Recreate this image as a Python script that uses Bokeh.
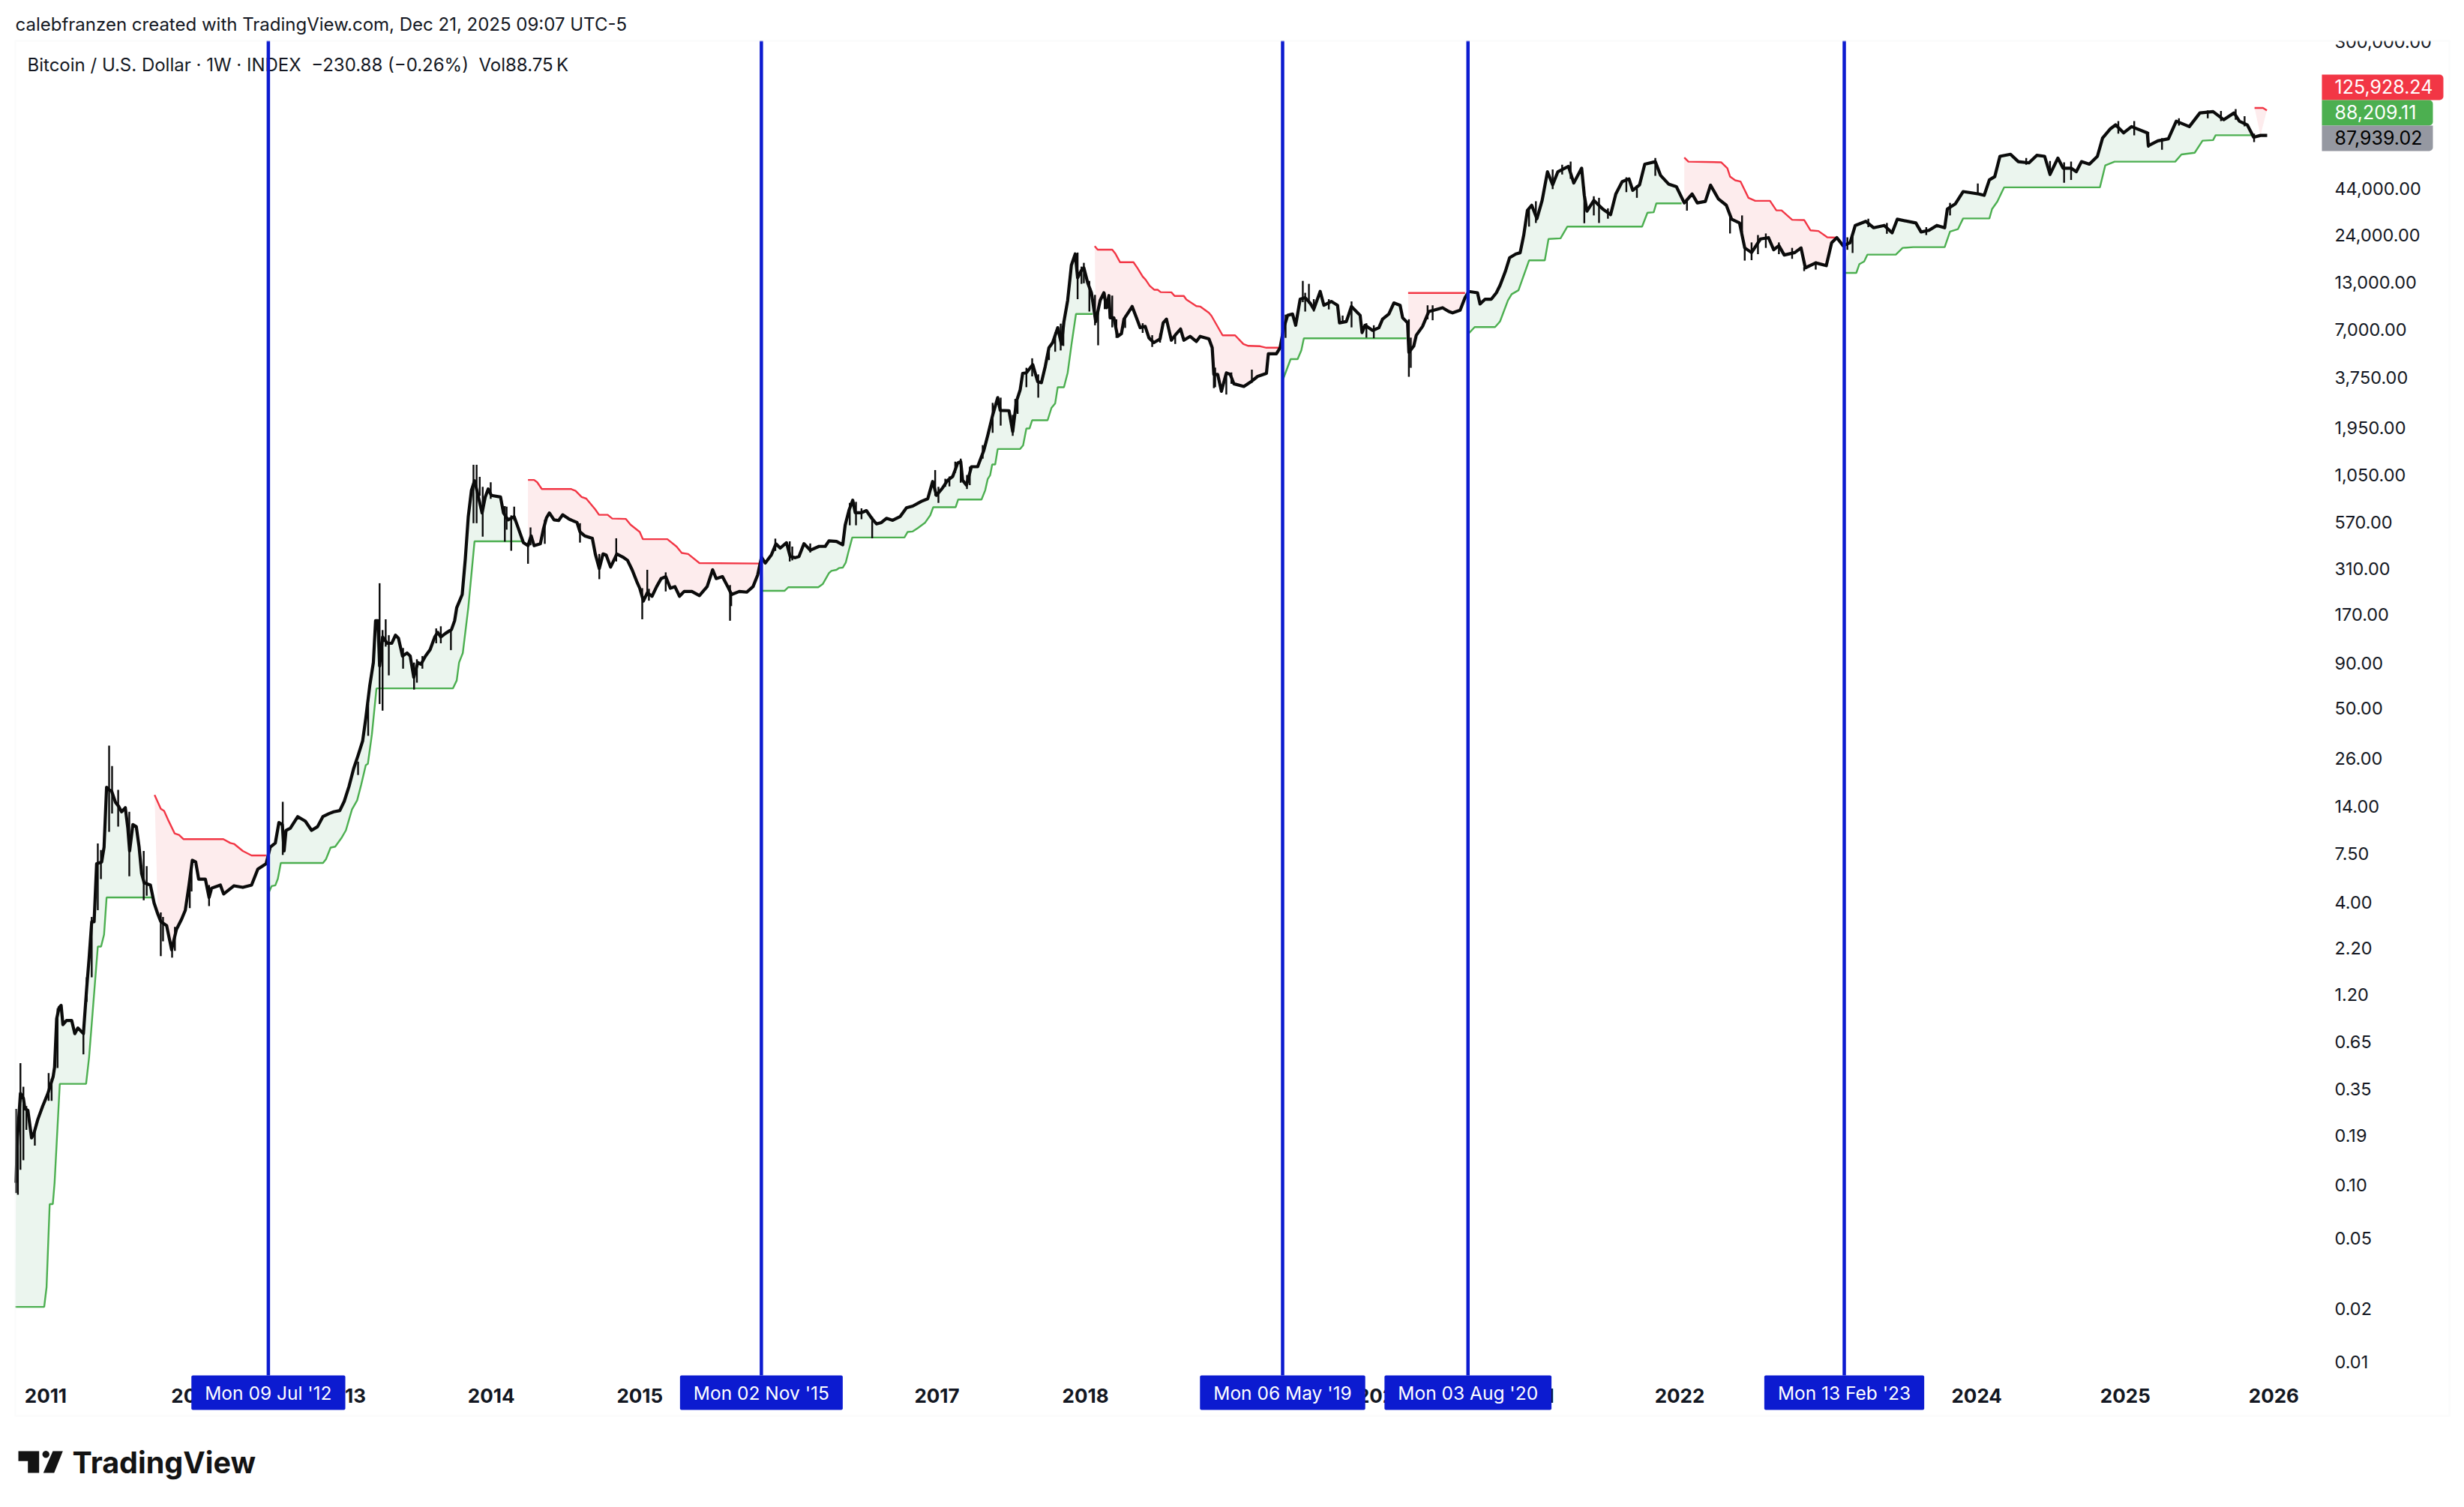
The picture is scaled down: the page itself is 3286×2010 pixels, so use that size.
import math
from bokeh.embed import file_html
from bokeh.resources import INLINE
from bokeh.plotting import figure
from bokeh.models import (BoxAnnotation, FixedTicker, Label, NumeralTickFormatter,
                          PolyAnnotation)

# ---------------------------------------------------------------- text
title_text = "calebfranzen created with TradingView.com, Dec 21, 2025 09:07 UTC-5"
legend_text = "Bitcoin / U.S. Dollar · 1W · INDEX\u00a0\u00a0−230.88 (−0.26%)\u00a0\u00a0Vol88.75\u2009K"
brand_text = "TradingView"

# ---------------------------------------------------------------- axes
x_tick_values = [2011.02, 2012.02, 2013.02, 2014.02, 2015.02, 2016.02, 2017.02, 2018.02,
                 2019.02, 2020.02, 2021.02, 2022.02, 2023.02, 2024.02, 2025.02, 2026.02]
x_tick_labels = ["2011", "2012", "2013", "2014", "2015", "2016", "2017", "2018",
                 "2019", "2020", "2021", "2022", "2023", "2024", "2025", "2026"]
y_tick_values = [300000, 44000, 24000, 13000, 7000, 3750, 1950, 1050, 570, 310, 170, 90, 50,
                 26, 14, 7.5, 4, 2.2, 1.2, 0.65, 0.35, 0.19, 0.10, 0.05, 0.02, 0.01]

# ---------------------------------------------------------------- events
event_dates = [2012.519, 2015.838, 2019.347, 2020.595, 2023.128]
event_labels = ["Mon 09 Jul '12", "Mon 02 Nov '15", "Mon 06 May '19", "Mon 03 Aug '20", "Mon 13 Feb '23"]

# ---------------------------------------------------------------- last values
last_high = 125928.24
last_support = 88209.11
last_close = 87939.02

# ---------------------------------------------------------------- weekly closes
close_t_1 = [2010.82, 2010.83, 2010.85, 2010.87, 2010.88, 2010.90, 2010.925, 2010.94, 2010.967, 2011.0,
             2011.035, 2011.07, 2011.08, 2011.094, 2011.11, 2011.124, 2011.136, 2011.16, 2011.195, 2011.216,
             2011.237, 2011.274, 2011.296, 2011.312, 2011.33, 2011.346, 2011.363, 2011.397, 2011.413, 2011.43,
             2011.447, 2011.464, 2011.49, 2011.51, 2011.531, 2011.556, 2011.573, 2011.585, 2011.607, 2011.63,
             2011.649, 2011.666, 2011.683, 2011.725, 2011.75, 2011.775, 2011.795, 2011.834, 2011.868, 2011.9,
             2011.935, 2011.96, 2011.985, 2012.007, 2012.03, 2012.05, 2012.095, 2012.12, 2012.137, 2012.196,
             2012.218, 2012.288, 2012.347, 2012.406, 2012.448, 2012.504, 2012.532, 2012.566, 2012.59, 2012.613,
             2012.625, 2012.638, 2012.667, 2012.717, 2012.768, 2012.81, 2012.85, 2012.886, 2012.928]
close_p_1 = [0.103, 0.185, 0.33, 0.31, 0.27, 0.265, 0.185, 0.195, 0.235, 0.28,
             0.33, 0.41, 0.465, 0.875, 1.01, 1.04, 0.81, 0.855, 0.855, 0.72,
             0.775, 0.72, 1.3, 1.91, 3.1, 3.1, 6.6, 6.75, 8.2, 17.9,
             17.3, 17.0, 14.7, 14.0, 13.0, 13.7, 10.5, 7.8, 11.0, 10.7,
             8.2, 5.8, 5.15, 5.0, 3.95, 3.42, 3.1, 2.95, 2.15, 2.8,
             3.2, 3.6, 5.0, 6.9, 6.75, 5.4, 5.4, 4.25, 4.8, 5.0,
             4.45, 4.95, 4.85, 5.0, 6.15, 6.6, 8.2, 8.65, 11.3, 11.0,
             7.8, 10.2, 10.5, 12.2, 11.5, 10.2, 10.7, 12.2, 12.7]

close_t_2 = [2012.959, 2013.0, 2013.03, 2013.062, 2013.093, 2013.123, 2013.154, 2013.175, 2013.202, 2013.226,
             2013.241, 2013.257, 2013.268, 2013.288, 2013.319, 2013.35, 2013.375, 2013.395, 2013.422, 2013.453,
             2013.474, 2013.498, 2013.525, 2013.546, 2013.577, 2013.608, 2013.639, 2013.659, 2013.68, 2013.711,
             2013.752, 2013.773, 2013.787, 2013.824, 2013.845, 2013.865, 2013.886, 2013.907, 2013.923, 2013.958,
             2013.979, 2013.999, 2014.02, 2014.082, 2014.102, 2014.133, 2014.174, 2014.205, 2014.236, 2014.267,
             2014.288, 2014.308, 2014.35, 2014.37, 2014.391, 2014.411, 2014.442, 2014.473, 2014.5, 2014.545,
             2014.597, 2014.617, 2014.648, 2014.7, 2014.72, 2014.747, 2014.772, 2014.793, 2014.823, 2014.865,
             2014.906, 2014.937, 2014.968, 2014.999, 2015.019, 2015.044, 2015.07, 2015.102, 2015.133, 2015.163,
             2015.194, 2015.225, 2015.256, 2015.287, 2015.318, 2015.37, 2015.421, 2015.473, 2015.51, 2015.534,
             2015.576, 2015.617, 2015.637, 2015.689, 2015.74, 2015.782, 2015.813, 2015.839, 2015.864, 2015.905,
             2015.936]
close_p_2 = [13.0, 13.2, 14.9, 18.1, 22.8, 27.1, 32.8, 44, 67.5, 91,
             157, 157, 87, 127, 117, 117, 130, 125, 99, 103,
             99, 75, 91, 89, 99, 107.6, 127, 135, 127, 133,
             140, 157, 186, 221, 352, 611, 858, 975, 858, 640,
             788, 875, 805, 788, 640, 585, 610, 515, 435, 418,
             475, 418, 428, 515, 600, 640, 585, 580, 625, 590,
             565, 500, 475, 460, 375, 310, 375, 370, 316, 375,
             360, 345, 305, 262, 240, 203, 226, 216, 245, 272,
             279, 240, 245, 216, 230, 230, 218, 245, 305, 272,
             279, 240, 221, 230, 228, 245, 285, 360, 333, 370,
             428]

close_t_3 = [2015.965, 2016.007, 2016.032, 2016.066, 2016.091, 2016.125, 2016.167, 2016.226, 2016.268, 2016.293,
             2016.344, 2016.386, 2016.402, 2016.428, 2016.453, 2016.47, 2016.512, 2016.545, 2016.579, 2016.613,
             2016.646, 2016.68, 2016.722, 2016.773, 2016.815, 2016.857, 2016.916, 2016.958, 2016.991, 2017.017,
             2017.059, 2017.092, 2017.126, 2017.16, 2017.18, 2017.193, 2017.219, 2017.252, 2017.294, 2017.336,
             2017.362, 2017.395, 2017.429, 2017.446, 2017.505, 2017.53, 2017.555, 2017.58, 2017.597, 2017.622,
             2017.665, 2017.698, 2017.723, 2017.749, 2017.774, 2017.799, 2017.833, 2017.858, 2017.875, 2017.9,
             2017.925, 2017.951, 2017.967, 2017.993, 2018.009, 2018.035, 2018.06, 2018.089, 2018.119, 2018.144,
             2018.161, 2018.178]
close_p_3 = [405, 434, 363, 357, 363, 429, 394, 414, 414, 445,
             442, 423, 545, 663, 755, 642, 642, 660, 600, 555,
             565, 597, 582, 612, 685, 700, 745, 770, 965, 805,
             890, 980, 1030, 1230, 1250, 980, 920, 1170, 1170, 1450,
             1760, 2290, 2880, 2440, 2430, 1850, 2740, 3180, 3950, 3980,
             4430, 3550, 3500, 4330, 5530, 5900, 7170, 5790, 7770, 10250,
             16200, 18750, 13750, 15150, 15650, 12860, 11300, 7770, 10250, 11300,
             9300, 10900]

close_t_4 = [2018.186, 2018.211, 2018.236, 2018.262, 2018.279, 2018.312, 2018.334, 2018.363, 2018.388, 2018.422,
             2018.447, 2018.48, 2018.522, 2018.543, 2018.565, 2018.598, 2018.632, 2018.66, 2018.682, 2018.724,
             2018.766, 2018.792, 2018.851, 2018.873, 2018.884, 2018.91, 2018.935, 2018.968, 2018.994, 2019.019,
             2019.086, 2019.137, 2019.179, 2019.238, 2019.251, 2019.305, 2019.33, 2019.355, 2019.381, 2019.414,
             2019.435, 2019.465, 2019.499, 2019.532, 2019.557, 2019.6, 2019.625, 2019.675, 2019.717, 2019.73,
             2019.776, 2019.81, 2019.869, 2019.882, 2019.902, 2019.953, 2019.995, 2020.02, 2020.062, 2020.096,
             2020.138, 2020.155, 2020.188, 2020.197, 2020.23, 2020.247, 2020.289, 2020.331, 2020.365, 2020.424,
             2020.466, 2020.491, 2020.542, 2020.575, 2020.6, 2020.659, 2020.676, 2020.71, 2020.752, 2020.786]
close_p_4 = [8160, 8160, 6400, 6630, 8020, 8850, 9450, 8160, 7170, 7290,
             6280, 5900, 6190, 7640, 8020, 6090, 6630, 7050, 6090, 6400,
             5990, 6400, 6190, 5520, 3900, 3900, 3130, 3970, 3900, 3450,
             3330, 3560, 3800, 3950, 5100, 5100, 5520, 7170, 8420, 8570,
             7400, 10400, 10600, 9900, 9130, 11500, 9600, 10100, 9600, 7640,
             7770, 9450, 8420, 6730, 7400, 6920, 7170, 8020, 8570, 9900,
             9600, 8160, 7640, 5200, 5650, 6500, 7290, 8850, 9000, 9300,
             8850, 8700, 9000, 10600, 11500, 11300, 9770, 10400, 10400, 11300]

close_t_5 = [2020.811, 2020.846, 2020.875, 2020.917, 2020.946, 2020.97, 2020.995, 2021.024, 2021.059, 2021.094,
             2021.13, 2021.165, 2021.2, 2021.271, 2021.307, 2021.36, 2021.378, 2021.396, 2021.442, 2021.502,
             2021.555, 2021.59, 2021.633, 2021.679, 2021.704, 2021.75, 2021.785, 2021.856, 2021.891, 2021.945,
             2021.998, 2022.051, 2022.104, 2022.139, 2022.193, 2022.228, 2022.281, 2022.334, 2022.37, 2022.423,
             2022.458, 2022.504, 2022.564, 2022.618, 2022.653, 2022.688, 2022.724, 2022.795, 2022.837, 2022.866,
             2022.936, 2023.007, 2023.043, 2023.078, 2023.12, 2023.167, 2023.202, 2023.273, 2023.326, 2023.397,
             2023.45, 2023.485, 2023.61, 2023.645, 2023.698, 2023.751, 2023.804, 2023.822, 2023.875, 2023.928,
             2024.034, 2024.07, 2024.105, 2024.141, 2024.176, 2024.247, 2024.3, 2024.371, 2024.424, 2024.477,
             2024.513, 2024.566, 2024.601, 2024.655, 2024.69, 2024.725, 2024.778, 2024.832, 2024.867, 2024.92,
             2024.955, 2025.009, 2025.062, 2025.168, 2025.175, 2025.239, 2025.31, 2025.363, 2025.451, 2025.522,
             2025.611, 2025.682, 2025.752, 2025.788, 2025.841, 2025.884, 2025.93, 2025.975]
close_p_5 = [12460, 14900, 17850, 18750, 19050, 23900, 33100, 35400, 29700, 37700,
             54800, 46200, 54800, 58800, 47300, 57400, 40300, 32800, 37700, 33700,
             31300, 41000, 48200, 49900, 43000, 46200, 60500, 62500, 52300, 46700,
             45100, 36500, 41000, 36500, 37200, 46000, 38400, 35400, 29500, 28100,
             20300, 19100, 22800, 23200, 19800, 20900, 18500, 19100, 20300, 15650,
             16700, 16100, 21700, 23200, 20900, 21700, 27200, 28700, 26400, 27200,
             24700, 29500, 28100, 25000, 25500, 27200, 26400, 33700, 36000, 42300,
             41000, 40300, 49300, 51400, 67000, 68800, 62500, 61500, 67900, 67000,
             53000, 65500, 57400, 57400, 54800, 62500, 60500, 67000, 85000, 96000,
             101000, 91000, 98700, 91000, 77000, 82000, 84200, 106000, 98700, 118000,
             120000, 108000, 118000, 106000, 101000, 86000, 88000, 87939.02]

# ---------------------------------------------------------------- long wicks
wick_t = [2010.821, 2010.833, 2010.85, 2010.87, 2010.89, 2010.947, 2011.04, 2011.06, 2011.10, 2011.274,
          2011.296, 2011.33, 2011.371, 2011.392, 2011.447, 2011.467, 2011.508, 2011.583, 2011.68, 2011.70,
          2011.795, 2011.81, 2011.871, 2011.89, 2011.99, 2012.002, 2012.12, 2012.616,
          2013.191, 2013.268, 2013.288, 2013.309, 2013.33, 2013.426, 2013.5, 2013.519, 2013.748, 2013.9,
          2013.921, 2013.942, 2013.962, 2014.016, 2014.111, 2014.154, 2014.174, 2014.267, 2014.284, 2014.617,
          2014.747, 2014.861, 2015.036, 2015.07, 2015.627, 2015.635, 2015.839, 2015.932,
          2016.029, 2016.475, 2016.584, 2017.008, 2017.03, 2017.18, 2017.222, 2017.395, 2017.449, 2017.53,
          2017.547, 2017.661, 2017.702, 2017.871, 2017.967, 2018.009, 2018.046, 2018.084, 2018.105, 2018.2,
          2018.469, 2018.884, 2018.968, 2019.14, 2019.367, 2019.483, 2019.524, 2019.811, 2020.197, 2020.21,
          2021.006, 2021.286, 2021.378, 2021.477, 2021.732, 2021.856, 2022.069, 2022.359, 2022.458, 2022.858,
          2023.184, 2024.027, 2024.608, 2025.175, 2025.267, 2025.763, 2025.887]
wick_low = [0.09, 0.088, 0.122, 0.138, 0.205, 0.167, 0.3, 0.3, 0.46, 0.55,
            1.09, 1.5, 3.6, 5.4, 10, 12.7, 10.7, 5.6, 4.1, 4.35,
            1.98, 2.4, 1.94, 2.12, 3.7, 4.6, 3.8, 7.4,
            35, 53, 48.6, 112, 77, 84, 64, 70, 107, 560,
            560, 800, 470, 770, 440, 391, 580, 330, 420, 435,
            270, 340, 160, 216, 157, 190, 285, 390,
            340, 545, 460, 800, 730, 950, 875, 1820, 2000, 1750,
            2450, 3800, 2880, 5650, 10400, 12800, 8850, 7400, 5700, 7200,
            5580, 3260, 3000, 3500, 6280, 10000, 9800, 7200, 3780, 4250,
            26800, 50000, 28000, 28100, 39000, 52000, 33000, 24500, 17200, 15000,
            19000, 41000, 47500, 75000, 73000, 108000, 80600]
wick_high = [0.27, 0.2, 0.49, 0.36, 0.28, 0.2, 0.43, 0.4, 1.0, 0.8,
             1.5, 3.3, 8.6, 7.9, 30.8, 23.6, 17.3, 13, 7.8, 6.4,
             3.5, 3.3, 2.3, 2.9, 5.0, 6.5, 5.0, 14.8,
             53, 256, 139, 160, 130, 110, 91, 95, 140, 1200,
             1200, 1025, 900, 955, 700, 620, 695, 430, 530, 560,
             375, 460, 240, 305, 250, 225, 495, 458,
             442, 740, 610, 1120, 900, 1300, 1050, 2690, 2880, 2300,
             2830, 4810, 3900, 7800, 19100, 16700, 13200, 11000, 9300, 10900,
             6500, 4400, 4050, 4150, 8500, 13200, 12700, 10100, 8000, 6300,
             34000, 62500, 45000, 39000, 46000, 65500, 38000, 31000, 21000, 15800,
             24000, 47000, 62000, 92000, 85000, 124000, 90000]

# shorter wicks
wick2_t = [2013.123, 2013.556, 2013.649, 2013.68, 2014.123, 2014.38, 2015.081, 2015.194,
           2016.046, 2016.167, 2016.433, 2016.512, 2017.076, 2017.104, 2017.143, 2017.241, 2017.328, 2017.563,
           2017.622, 2017.774, 2017.816, 2017.853, 2017.993, 2018.149, 2018.287,
           2018.228, 2018.405, 2018.522, 2018.624, 2018.893, 2019.002, 2019.499, 2019.557, 2019.658, 2019.751,
           2019.911, 2019.961, 2020.323, 2020.357,
           2021.052, 2021.165, 2021.229, 2021.442, 2021.537, 2021.661, 2022.44, 2022.504, 2022.547, 2022.6,
           2022.688, 2022.777, 2022.936, 2023.149, 2023.29, 2023.415, 2023.68, 2023.84, 2024.353, 2024.513,
           2024.655, 2024.973, 2025.08, 2025.381, 2025.575, 2025.664, 2025.823]
wick2_low = [21, 84, 117, 117, 515, 428, 204, 230,
             345, 382, 545, 590, 900, 905, 1080, 920, 1300, 2330,
             3300, 4700, 5240, 5330, 12700, 9130, 7150,
             6280, 6700, 5900, 5800, 3300, 3450, 8850, 8850, 9100, 7600,
             6300, 6250, 8000, 7900,
             28100, 43700, 52900, 31000, 29700, 42000, 24800, 17300, 18700, 20300,
             18700, 17600, 15300, 19800, 26600, 24400, 24000, 31000, 60000, 52000,
             49200, 90000, 88000, 100000, 110000, 106000, 99000]
wick2_high = [25, 99, 142, 146, 695, 585, 238, 295,
              413, 430, 730, 680, 1000, 1030, 1250, 1170, 1550, 2780,
              4250, 5500, 6750, 7560, 15900, 11300, 8400,
              8000, 7600, 6650, 6500, 4260, 4000, 11300, 10400, 10400, 8400,
              7600, 7400, 9600, 9600,
              37300, 56400, 60000, 39800, 34000, 51000, 31000, 21800, 24000, 24500,
              21800, 20300, 17000, 23300, 29700, 28100, 26600, 36500, 65500, 63000,
              62500, 106000, 106000, 110000, 122000, 121000, 113000]

# ---------------------------------------------------------------- support line (green), by bull phase
green_t_1 = [2010.816, 2011.01, 2011.026, 2011.047, 2011.068, 2011.08, 2011.115, 2011.292, 2011.312, 2011.371,
             2011.393, 2011.413, 2011.43, 2011.738]
green_p_1 = [0.0204, 0.0204, 0.0264, 0.078, 0.078, 0.103, 0.374, 0.374, 0.527, 2.24,
             2.24, 2.62, 4.25, 4.25]
green_t_2 = [2012.519, 2012.541, 2012.566, 2012.583, 2012.603, 2012.887, 2012.907, 2012.938, 2012.969, 2013.01,
             2013.041, 2013.082, 2013.117, 2013.144, 2013.175, 2013.189, 2013.216, 2013.247, 2013.762, 2013.787,
             2013.803, 2013.828, 2013.865, 2013.907, 2014.236]
green_p_2 = [4.47, 4.93, 4.98, 5.43, 6.67, 6.67, 7.0, 8.15, 8.25, 9.2,
             10.2, 13.4, 15.1, 18.5, 23.9, 24.3, 35.6, 65, 65, 72,
             91, 103, 186, 442, 442]
green_t_3 = [2015.843, 2015.995, 2016.019, 2016.221, 2016.251, 2016.293, 2016.31, 2016.344, 2016.36, 2016.386,
             2016.406, 2016.423, 2016.45, 2016.801, 2016.823, 2016.857, 2016.89, 2016.941, 2016.975, 2016.995,
             2017.146, 2017.163, 2017.32, 2017.345, 2017.362, 2017.378, 2017.392, 2017.412, 2017.429, 2017.58,
             2017.6, 2017.622, 2017.643, 2017.661, 2017.765, 2017.791, 2017.816, 2017.833, 2017.875, 2017.9,
             2017.925, 2017.956, 2018.068]
green_p_3 = [232, 232, 243, 243, 253, 292, 301, 305, 312, 314,
             335, 382, 465, 465, 500, 503, 525, 565, 621, 690,
             690, 763, 763, 861, 997, 1046, 1205, 1205, 1474, 1474,
             1547, 1925, 1925, 2145, 2145, 2520, 2675, 3300, 3300, 3980,
             5700, 8580, 8580]
green_t_4 = [2019.347, 2019.401, 2019.448, 2019.473, 2019.49, 2020.18]
green_p_4 = [3600, 4760, 4760, 5340, 6240, 6240]
green_t_5 = [2020.6, 2020.64, 2020.777, 2020.803, 2020.811, 2020.864, 2020.889, 2020.935, 2021.006, 2021.112,
             2021.137, 2021.218, 2021.264, 2021.767, 2021.803, 2021.845, 2021.863, 2022.033]
green_p_5 = [6650, 7230, 7230, 7650, 7800, 10240, 11100, 11680, 17250, 17250,
             22800, 23000, 26800, 26800, 32100, 32300, 36300, 36300]
green_t_6 = [2023.124, 2023.209, 2023.23, 2023.262, 2023.284, 2023.475, 2023.521, 2023.592, 2023.804, 2023.84,
             2023.893, 2023.928, 2024.105, 2024.123, 2024.158, 2024.204, 2024.849, 2024.885, 2024.948, 2025.356,
             2025.398, 2025.487, 2025.54, 2025.611, 2025.628, 2025.876]
green_p_6 = [14650, 14650, 16440, 17000, 18600, 18600, 20300, 20500, 20500, 25100,
             25900, 29800, 29800, 33700, 37100, 44700, 44700, 59500, 62500, 62500,
             68700, 70200, 82200, 82800, 88209.11, 88209.11]

# ---------------------------------------------------------------- resistance line (red), by bear phase
red_t_1 = [2011.753, 2011.795, 2011.817, 2011.842, 2011.888, 2011.918, 2011.947, 2012.216, 2012.263, 2012.288,
           2012.347, 2012.406, 2012.504]
red_p_1 = [16.2, 13.5, 13.15, 11.8, 9.8, 9.6, 9.1, 9.1, 8.65, 8.55, 7.8, 7.35, 7.35]
red_t_2 = [2014.267, 2014.308, 2014.329, 2014.36, 2014.556, 2014.587, 2014.628, 2014.659, 2014.72, 2014.745,
           2014.803, 2014.834, 2014.926, 2014.957, 2015.019, 2015.04, 2015.205, 2015.267, 2015.302, 2015.345,
           2015.421, 2015.823]
red_p_2 = [985, 985, 955, 875, 875, 855, 788, 772, 670, 625,
           625, 595, 592, 550, 500, 455, 455, 413, 380, 375,
           333, 331]
red_t_3 = [2018.082, 2018.102, 2018.2, 2018.22, 2018.253, 2018.343, 2018.371, 2018.405, 2018.425, 2018.452,
           2018.484, 2018.506, 2018.526, 2018.598, 2018.62, 2018.682, 2018.699, 2018.766, 2018.792, 2018.851,
           2018.868, 2018.943, 2019.027, 2019.083, 2019.116, 2019.196, 2019.238, 2019.327]
red_p_3 = [20800, 19850, 19850, 18900, 16830, 16830, 15560, 13970, 13400, 12400,
           11750, 11750, 11400, 11380, 10850, 10850, 10350, 9500, 9450, 8700,
           8370, 6490, 6490, 5790, 5660, 5630, 5520, 5520]
red_t_4 = [2020.192, 2020.575]
red_p_4 = [11270, 11270]
red_t_5 = [2022.051, 2022.079, 2022.299, 2022.341, 2022.359, 2022.394, 2022.43, 2022.483, 2022.529, 2022.628,
           2022.671, 2022.706, 2022.777, 2022.858, 2022.901, 2022.954, 2023.014, 2023.078]
red_p_5 = [66000, 62500, 62000, 57400, 51500, 49000, 48200, 39000, 37500, 37500,
           33100, 33100, 29300, 29200, 25500, 25300, 23300, 23200]
red_t_6 = [2025.89, 2025.947, 2025.973]
red_p_6 = [125928.24, 125928.24, 122000]

# ---------------------------------------------------------------- style
INK = "#131722"
BLUE = "#0C1BD0"
GREEN = "#4CAF50"
RED = "#F23645"
GREEN_FILL = "#EBF5EE"
RED_FILL = "#FDECED"
BORDER = "#F3F4F5"
FONT = "Inter"

close_t = close_t_1 + close_t_2 + close_t_3 + close_t_4 + close_t_5
close_p = close_p_1 + close_p_2 + close_p_3 + close_p_4 + close_p_5

# The frame fills the whole canvas, so that annotations outside the chart area are not clipped;
# the two axes are pinned to the edges of the chart area.
X_RANGE = (2010.715, 2027.2622)
Y_RANGE = (0.001615, 512100)
AXIS_TIME = 2026.343
AXIS_PRICE = 0.00835
TOP_PRICE = 302000

p = figure(width=3278, height=2002, output_backend="svg", toolbar_location=None,
           x_range=X_RANGE, y_range=Y_RANGE, y_axis_type="log", y_axis_location="right",
           min_border=0, background_fill_color="white", border_fill_color="white")
p.outline_line_color = None
p.grid.visible = False

p.xaxis.fixed_location = AXIS_PRICE
p.xaxis.ticker = FixedTicker(ticks=x_tick_values)
p.xaxis.major_label_overrides = dict(zip(x_tick_values, x_tick_labels))
p.xaxis.axis_line_color = None
p.xaxis.major_tick_line_color = None
p.xaxis.minor_tick_line_color = None
p.xaxis.major_tick_out = 0
p.xaxis.major_tick_in = 0
p.xaxis.major_label_standoff = 18
p.xaxis.major_label_text_font = FONT
p.xaxis.major_label_text_font_size = "26px"
p.xaxis.major_label_text_font_style = "bold"
p.xaxis.major_label_text_color = INK

p.yaxis.fixed_location = AXIS_TIME
p.yaxis.ticker = FixedTicker(ticks=y_tick_values)
p.yaxis.formatter = NumeralTickFormatter(format="0,0.00")
p.yaxis.axis_line_color = None
p.yaxis.major_tick_line_color = None
p.yaxis.minor_tick_line_color = None
p.yaxis.major_tick_out = 0
p.yaxis.major_tick_in = 0
p.yaxis.major_label_standoff = 17
p.yaxis.major_label_text_font = FONT
p.yaxis.major_label_text_font_size = "23.5px"
p.yaxis.major_label_text_color = INK


def band(line_t, line_p, color):
    lo, hi = line_t[0], line_t[-1]
    inner = [(t, c) for t, c in zip(close_t, close_p) if lo <= t <= hi]
    xs = line_t + [t for t, _ in reversed(inner)]
    ys = line_p + [c for _, c in reversed(inner)]
    p.patch(xs, ys, fill_color=color, line_color=None)


green_phases = [(green_t_1, green_p_1), (green_t_2, green_p_2), (green_t_3, green_p_3),
                (green_t_4, green_p_4), (green_t_5, green_p_5), (green_t_6, green_p_6)]
red_phases = [(red_t_1, red_p_1), (red_t_2, red_p_2), (red_t_3, red_p_3),
              (red_t_4, red_p_4), (red_t_5, red_p_5), (red_t_6, red_p_6)]

for lt, lp in green_phases:
    band(lt, lp, GREEN_FILL)
for lt, lp in red_phases:
    band(lt, lp, RED_FILL)
for lt, lp in green_phases:
    p.line(lt, lp, line_color=GREEN, line_width=2.4)
for lt, lp in red_phases:
    p.line(lt, lp, line_color=RED, line_width=2.4)

p.segment(wick_t, wick_low, wick_t, wick_high, line_color="#0b0b0b", line_width=2.4)
p.segment(wick2_t, wick2_low, wick2_t, wick2_high, line_color="#0b0b0b", line_width=2.4)
p.line(close_t, close_p, line_color="#0b0b0b", line_width=4.2, line_join="round")
p.segment(event_dates, [AXIS_PRICE] * len(event_dates), event_dates, [TOP_PRICE] * len(event_dates),
          line_color=BLUE, line_width=4.5)


def text(x, y, s, size, color=INK, style="normal", font=FONT, level="annotation"):
    lab = Label(x=x, y=y, x_units="canvas", y_units="canvas", text=s, text_font=font,
                text_font_size=size, text_color=color, text_font_style=style,
                text_baseline="middle", text_align="left", level=level)
    p.add_layout(lab)


def box(l, r, t, b, **kw):
    p.add_layout(BoxAnnotation(left=l, right=r, top=t, bottom=b, left_units="canvas", right_units="canvas",
                               top_units="canvas", bottom_units="canvas", level="overlay", **kw))


box(3098, 3270, 0, 54, fill_color="white", fill_alpha=1, line_color=None)
box(20, 3266, 54, 1888, fill_color=None, fill_alpha=0, line_color=BORDER, line_width=2.5)

text(20, 32, title_text, "24px")
text(36, 86, legend_text, "24px", level="underlay")

for t0, name in zip(event_dates, event_labels):
    p.add_layout(Label(x=t0, y=1857, x_units="data", y_units="canvas", text=name, text_font=FONT,
                       text_font_size="24.5px", text_color="white", text_align="center", text_baseline="middle",
                       background_fill_color=BLUE, padding=(18, 8), border_radius=2, level="overlay"))

box(3096, 3258, 99, 133, fill_color=RED, fill_alpha=1, line_color=None, border_radius=(0, 5, 5, 0))
box(3096, 3244, 133, 167, fill_color=GREEN, fill_alpha=1, line_color=None, border_radius=(0, 5, 5, 0))
box(3096, 3244, 167, 201, fill_color="#9598A1", fill_alpha=1, line_color=None, border_radius=(0, 0, 5, 0))
text(3113, 115, f"{last_high:,.2f}", "25px", color="white", level="overlay")
text(3113, 149, f"{last_support:,.2f}", "25px", color="white", level="overlay")
text(3113, 183, f"{last_close:,.2f}", "25px", color="#000000", level="overlay")

# logo
LOGO = "#131313"
for xs, ys in [([24, 51.7, 51.7, 36.7, 36.7, 24], [1935, 1935, 1964, 1964, 1948.3, 1948.3]),
               ([70, 83.3, 71.7, 57.3], [1935, 1935, 1964, 1964]),
               ([60.7 + 4.7 * math.cos(a * math.pi / 8) for a in range(16)],
                [1939.3 + 4.7 * math.sin(a * math.pi / 8) for a in range(16)])]:
    p.add_layout(PolyAnnotation(xs=xs, ys=ys, xs_units="canvas", ys_units="canvas", fill_color=LOGO, fill_alpha=1,
                                line_color=None, level="overlay"))
text(96, 1950, brand_text, "39.5px", color=LOGO, style="bold", level="overlay")

open("out.html", "w").write(file_html(p, INLINE))
